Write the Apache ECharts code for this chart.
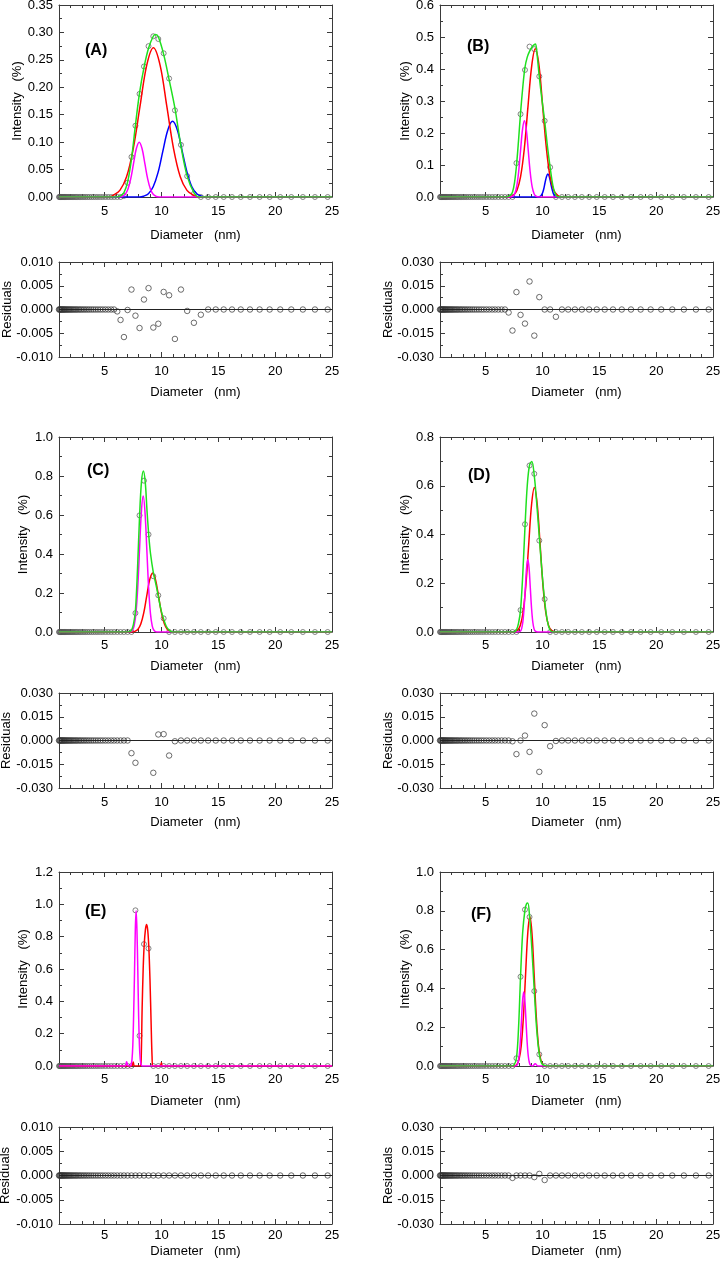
<!DOCTYPE html>
<html><head><meta charset="utf-8">
<script src="https://cdn.jsdelivr.net/npm/echarts@6/dist/echarts.min.js"></script>
<style>html,body{margin:0;padding:0;background:#fff}#c{width:720px;height:1264px}</style>
</head><body><div id="c"></div>
<script>
// ---------------- DATA ----------------
// size bins (nm), shared by all six measurements
const diameters = [
 1.00,1.05,1.10,1.15,1.21,1.26,1.32,1.39,1.45,1.52,
 1.59,1.67,1.75,1.83,1.92,2.01,2.10,2.20,2.31,2.42,
 2.53,2.65,2.78,2.91,3.05,3.20,3.35,3.51,3.67,3.85,
 4.03,4.22,4.42,4.63,4.85,5.08,5.32,5.58,5.84,6.12,
 6.41,6.71,7.03,7.37,7.72,8.08,8.47,8.87,9.29,9.73,
 10.20,10.68,11.19,11.72,12.27,12.86,13.47,14.11,14.78,15.48,
 16.21,16.98,17.79,18.64,19.52,20.45,21.42,22.44,23.50,24.62];

const xTicks = [5, 10, 15, 20, 25];

const intensityA = [0,0,0,0,0,0,0,0,0,0, 0,0,0,0,0,0,0,0,0,0, 0,0,0,0,0,0,0,0,0,0, 0,0,0,0,0,0,0,0,0,0,
 0,0.002,0.026,0.073,0.130,0.188,0.238,0.275,0.293,0.288, 0.262,0.216,0.158,0.095,0.038,0.006,0,0,0,0, 0,0,0,0,0,0,0,0,0,0];
const residualA = [0,0,0,0,0,0,0,0,0,0, 0,0,0,0,0,0,0,0,0,0, 0,0,0,0,0,0,0,0,0,0, 0,0,0,0,0,0,0,0,0,-0.0004,
 -0.0022,-0.0058,-0.0001,0.0042,-0.0013,-0.0039,0.0021,0.0045,-0.0038,-0.0030, 0.0037,0.0030,-0.0062,0.0042,-0.0003,-0.0028,-0.0011,0,0,0, 0,0,0,0,0,0,0,0,0,0];

const intensityB = [0,0,0,0,0,0,0,0,0,0, 0,0,0,0,0,0,0,0,0,0, 0,0,0,0,0,0,0,0,0,0, 0,0,0,0,0,0,0,0,0,0,
 0,0,0,0,0.106,0.259,0.397,0.470,0.462,0.377, 0.238,0.093,0,0,0,0,0,0,0,0, 0,0,0,0,0,0,0,0,0,0];
const residualB = [0,0,0,0,0,0,0,0,0,0, 0,0,0,0,0,0,0,0,0,0, 0,0,0,0,0,0,0,0,0,0, 0,0,0,0,0,0,0,0,0,0,
 0,0,-0.0019,-0.0133,0.0110,-0.0034,-0.0089,0.0177,-0.0165,0.0078, 0,0,-0.0046,0,0,0,0,0,0,0, 0,0,0,0,0,0,0,0,0,0];

const intensityC = [0,0,0,0,0,0,0,0,0,0, 0,0,0,0,0,0,0,0,0,0, 0,0,0,0,0,0,0,0,0,0, 0,0,0,0,0,0,0,0,0,0,
 0,0,0,0,0.097,0.598,0.776,0.500,0.286,0.188, 0.070,0,0,0,0,0,0,0,0,0, 0,0,0,0,0,0,0,0,0,0];
const residualC = [0,0,0,0,0,0,0,0,0,0, 0,0,0,0,0,0,0,0,0,0, 0,0,0,0,0,0,0,0,0,0, 0,0,0,0,0,0,0,0,0,0,
 0,0,0,-0.0080,-0.0141,null,null,null,-0.0204,0.0038, 0.0040,-0.0095,-0.0005,0,0,0,0,0,0,0, 0,0,0,0,0,0,0,0,0,0];

const intensityD = [0,0,0,0,0,0,0,0,0,0, 0,0,0,0,0,0,0,0,0,0, 0,0,0,0,0,0,0,0,0,0, 0,0,0,0,0,0,0,0,0,0,
 0,0,0,0,0,0.090,0.442,0.683,0.649,0.375, 0.135,0,0,0,0,0,0,0,0,0, 0,0,0,0,0,0,0,0,0,0];
const residualD = [0,0,0,0,0,0,0,0,0,0, 0,0,0,0,0,0,0,0,0,0, 0,0,0,0,0,0,0,0,0,0, 0,0,0,0,0,0,0,0,0,0,
 0,0,0,-0.0005,-0.0086,0,0.0031,-0.0072,0.0170,-0.0198, 0.0097,-0.0036,-0.0003,0,0,0,0,0,0,0, 0,0,0,0,0,0,0,0,0,0];

const intensityE = [0,0,0,0,0,0,0,0,0,0, 0,0,0,0,0,0,0,0,0,0, 0,0,0,0,0,0,0,0,0,0, 0,0,0,0,0,0,0,0,0,0,
 0,0,0,0,0.963,0.187,0.754,0.727,0,0, 0,0,0,0,0,0,0,0,0,0, 0,0,0,0,0,0,0,0,0,0];
const residualE = [0,0,0,0,0,0,0,0,0,0, 0,0,0,0,0,0,0,0,0,0, 0,0,0,0,0,0,0,0,0,0, 0,0,0,0,0,0,0,0,0,0,
 0,0,0,0,0,0,0,0,0,0, 0,0,0,0,0,0,0,0,0,0, 0,0,0,0,0,0,0,0,0,0];

const intensityF = [0,0,0,0,0,0,0,0,0,0, 0,0,0,0,0,0,0,0,0,0, 0,0,0,0,0,0,0,0,0,0, 0,0,0,0,0,0,0,0,0,0,
 0,0,0,0,0.040,0.460,0.806,0.768,0.386,0.060, 0,0,0,0,0,0,0,0,0,0, 0,0,0,0,0,0,0,0,0,0];
const residualF = [0,0,0,0,0,0,0,0,0,0, 0,0,0,0,0,0,0,0,0,0, 0,0,0,0,0,0,0,0,0,0, 0,0,0,0,0,0,0,0,0,0,
 0,0,0,-0.0015,0,0,0,0,-0.0010,0.0010, -0.0028,0,0,0,0,0,0,0,0,0, 0,0,0,0,0,0,0,0,0,0];

// fitted curves [diameter, intensity]
const greenA = [[1,0],[6.1,0],[6.41,0.002],[6.71,0.008],[7.03,0.027],[7.37,0.069],[7.72,0.131],[8.08,0.19],[8.47,0.236],[8.87,0.271],[9.29,0.293],[9.5,0.296],[9.73,0.292],[10.2,0.26],[10.68,0.214],[11.19,0.162],[11.72,0.093],[12.27,0.038],[12.86,0.008],[13.3,0],[25,0]];
const redA = [[1,0],[5.4,0],[5.76,0.003],[6.35,0.012],[6.94,0.0368],[7.53,0.0883],[8.12,0.165],[8.71,0.240],[9.3,0.272],[9.89,0.240],[10.48,0.165],[11.07,0.0883],[11.66,0.0368],[12.25,0.012],[12.84,0.003],[13.2,0],[25,0]];
const magentaA = [[1,0],[6.3,0],[6.55,0.001],[6.8,0.0044],[7.05,0.0135],[7.3,0.0325],[7.55,0.0607],[7.8,0.0883],[8.05,0.1],[8.3,0.0883],[8.55,0.0607],[8.8,0.0325],[9.05,0.0135],[9.3,0.0044],[9.55,0.001],[9.8,0],[25,0]];
const blueA = [[1,0],[8.1,0],[8.43,0.0015],[8.86,0.006],[9.28,0.0187],[9.71,0.0448],[10.13,0.0837],[10.56,0.1218],[10.98,0.138],[11.41,0.1218],[11.83,0.0837],[12.26,0.0448],[12.68,0.0187],[13.11,0.006],[13.53,0.0015],[13.9,0],[25,0]];

const greenB = [[1,0],[6.8,0],[7.03,0.002],[7.2,0.006],[7.37,0.015],[7.55,0.045],[7.72,0.097],[7.9,0.175],[8.08,0.262],[8.27,0.34],[8.47,0.405],[8.67,0.437],[8.87,0.455],[9.08,0.468],[9.29,0.476],[9.4,0.478],[9.55,0.44],[9.73,0.375],[9.96,0.305],[10.2,0.238],[10.44,0.16],[10.68,0.093],[10.93,0.035],[11.19,0.006],[11.5,0],[25,0]];
const redB = [[1,0],[7.1,0],[7.43,0.005],[7.76,0.0203],[8.08,0.0626],[8.41,0.15],[8.73,0.281],[9.06,0.409],[9.38,0.463],[9.71,0.409],[10.03,0.281],[10.36,0.15],[10.68,0.0626],[11.01,0.0203],[11.33,0.005],[11.6,0],[25,0]];
const magentaB = [[1,0],[7.2,0],[7.4,0.0026],[7.57,0.0104],[7.74,0.0322],[7.91,0.0773],[8.08,0.1444],[8.25,0.21],[8.42,0.238],[8.59,0.21],[8.76,0.1444],[8.93,0.0773],[9.1,0.0322],[9.27,0.0104],[9.44,0.0026],[9.65,0],[25,0]];
const blueB = [[1,0],[9.5,0],[9.73,0.0008],[9.86,0.0032],[9.98,0.0097],[10.11,0.0234],[10.23,0.0437],[10.36,0.0635],[10.48,0.072],[10.61,0.0635],[10.73,0.0437],[10.86,0.0234],[10.98,0.0097],[11.11,0.0032],[11.23,0.0008],[11.45,0],[25,0]];

const greenC = [[1,0],[7.0,0],[7.2,0.002],[7.37,0.008],[7.55,0.04],[7.72,0.111],[7.9,0.32],[8.08,0.59],[8.25,0.77],[8.42,0.826],[8.58,0.77],[8.74,0.62],[8.9,0.49],[9.05,0.4],[9.29,0.306],[9.5,0.25],[9.73,0.184],[9.96,0.115],[10.2,0.066],[10.44,0.028],[10.68,0.0095],[10.95,0],[25,0]];
const redC = [[1,0],[7.4,0],[7.67,0.0034],[7.93,0.0133],[8.19,0.041],[8.45,0.098],[8.71,0.184],[8.97,0.267],[9.23,0.303],[9.49,0.267],[9.75,0.184],[10.01,0.098],[10.27,0.041],[10.53,0.0133],[10.79,0.0034],[11.05,0],[25,0]];
const magentaC = [[1,0],[7.2,0],[7.44,0.0077],[7.6,0.0306],[7.76,0.0943],[7.92,0.226],[8.08,0.423],[8.24,0.615],[8.4,0.697],[8.56,0.615],[8.72,0.423],[8.88,0.226],[9.04,0.0943],[9.2,0.0306],[9.36,0.0077],[9.6,0],[25,0]];

const greenD = [[1,0],[7.5,0],[7.72,0.009],[7.9,0.035],[8.08,0.09],[8.28,0.24],[8.47,0.43],[8.67,0.6],[8.87,0.685],[9.07,0.70],[9.29,0.64],[9.5,0.53],[9.73,0.39],[9.96,0.25],[10.2,0.128],[10.44,0.045],[10.68,0.008],[10.95,0],[25,0]];
const redD = [[1,0],[7.5,0],[7.8,0.0066],[8.05,0.026],[8.3,0.08],[8.55,0.1925],[8.8,0.3597],[9.05,0.523],[9.3,0.593],[9.55,0.523],[9.8,0.3597],[10.05,0.1925],[10.3,0.08],[10.55,0.026],[10.8,0.0066],[11.1,0],[25,0]];
const magentaD = [[1,0],[7.85,0],[8.06,0.0033],[8.17,0.013],[8.28,0.04],[8.39,0.0964],[8.5,0.18],[8.61,0.262],[8.72,0.297],[8.83,0.262],[8.94,0.18],[9.05,0.0964],[9.16,0.04],[9.27,0.013],[9.38,0.0033],[9.6,0],[25,0]];

const redE = [[1,0],[7.4,0],[7.52,0.025],[7.64,0],[8.15,0],[8.22,0.03],[8.31,0.36],[8.4,0.6],[8.49,0.75],[8.6,0.845],[8.7,0.875],[8.8,0.84],[8.9,0.73],[9.0,0.53],[9.1,0.26],[9.18,0.06],[9.25,0],[9.9,0],[10.0,0.02],[10.1,0],[25,0]];
const magentaE = [[1,0],[6.8,0],[6.94,0.027],[7.08,0],[7.3,0],[7.35,0.011],[7.42,0.042],[7.49,0.13],[7.56,0.312],[7.64,0.582],[7.71,0.847],[7.78,0.96],[7.85,0.847],[7.93,0.582],[8.0,0.312],[8.07,0.13],[8.14,0.042],[8.22,0.011],[8.3,0],[25,0]];

const greenF = [[1,0],[7.3,0],[7.5,0.005],[7.72,0.04],[7.9,0.19],[8.08,0.46],[8.27,0.69],[8.47,0.805],[8.6,0.835],[8.72,0.84],[8.87,0.775],[9.08,0.6],[9.29,0.387],[9.5,0.19],[9.73,0.06],[9.95,0.012],[10.2,0.003],[10.45,0],[25,0]];
const redF = [[1,0],[7.5,0],[7.76,0.0085],[7.95,0.0338],[8.14,0.104],[8.33,0.25],[8.52,0.467],[8.71,0.68],[8.9,0.77],[9.09,0.68],[9.28,0.467],[9.47,0.25],[9.66,0.104],[9.85,0.0338],[10.04,0.0085],[10.3,0],[25,0]];
const magentaF = [[1,0],[7.55,0],[7.76,0.0042],[7.86,0.0168],[7.96,0.0517],[8.06,0.124],[8.16,0.232],[8.26,0.337],[8.36,0.382],[8.46,0.337],[8.56,0.232],[8.66,0.124],[8.76,0.0517],[8.86,0.0168],[8.96,0.0042],[9.15,0],[9.37,0.012],[9.6,0],[25,0]];

// ---------------- LAYOUT / STYLE ----------------
const FONT = 'Liberation Sans, Arial, Helvetica, sans-serif';
const COLORS = {green:'#1fe01f', red:'#ff0000', magenta:'#ff00ff', blue:'#0000ff'};
const COL_LEFT = [59, 440], PLOT_W = 273;
const MAIN_TOP = [5, 437, 872], MAIN_H = [192, 195, 194];
const RES_TOP = [262, 693, 1127], RES_H = [95, 95, 97];
const MAIN_XNAME_GAP = [32, 28, 29], MAIN_XLABEL_MARGIN = [8, 7, 7];
const RES_XNAME_GAP = [29, 28, 21], RES_XLABEL_MARGIN = [8, 8, 5];

const panels = [
 {label:'(A)', col:0, row:0, yMax:0.35, yStep:0.05, yDec:2, rLim:0.01, rStep:0.005, inten:intensityA, resid:residualA,
  fits:[[blueA,'blue'],[redA,'red'],[magentaA,'magenta'],[greenA,'green']], lab:[85,43], yGap:35, rGap:45},
 {label:'(B)', col:1, row:0, yMax:0.6, yStep:0.1, yDec:1, rLim:0.03, rStep:0.015, inten:intensityB, resid:residualB,
  fits:[[blueB,'blue'],[redB,'red'],[magentaB,'magenta'],[greenB,'green']], lab:[467,39], yGap:28, rGap:45},
 {label:'(C)', col:0, row:1, yMax:1.0, yStep:0.2, yDec:1, rLim:0.03, rStep:0.015, inten:intensityC, resid:residualC,
  fits:[[redC,'red'],[magentaC,'magenta'],[greenC,'green']], lab:[87,463], yGap:29, rGap:46},
 {label:'(D)', col:1, row:1, yMax:0.8, yStep:0.2, yDec:1, rLim:0.03, rStep:0.015, inten:intensityD, resid:residualD,
  fits:[[redD,'red'],[magentaD,'magenta'],[greenD,'green']], lab:[468,468], yGap:28, rGap:45},
 {label:'(E)', col:0, row:2, yMax:1.2, yStep:0.2, yDec:1, rLim:0.01, rStep:0.005, inten:intensityE, resid:residualE,
  fits:[[redE,'red'],[magentaE,'magenta']], lab:[85,904], yGap:29, rGap:47},
 {label:'(F)', col:1, row:2, yMax:1.0, yStep:0.2, yDec:1, rLim:0.03, rStep:0.015, inten:intensityF, resid:residualF,
  fits:[[redF,'red'],[magentaF,'magenta'],[greenF,'green']], lab:[471,907], yGap:28, rGap:45}
];

const AX = '#3a3a3a';
const tickStyle = {color: AX, width: 1};
function fmt(dec){ return v => (Math.abs(v) < 1e-9 ? 0 : v).toFixed(dec); }

const grid = [], xAxis = [], yAxis = [], series = [], title = [];

function addAxes(g, xMargin, xGap, yMin, yMax, yStep, yDec, yName, yGap){
  const base = {gridIndex:g, type:'value', min:1, max:25, splitLine:{show:false}, minorSplitLine:{show:false},
    axisLine:{show:true, onZero:false, lineStyle:{color:AX, width:1}},
    axisTick:{show:true, inside:true, length:5, lineStyle:tickStyle},
    minorTick:{show:true, inside:true, splitNumber:5, length:3, lineStyle:tickStyle}};
  xAxis.push(Object.assign({}, base, {position:'bottom',
    axisLabel:{show:true, margin:xMargin, fontSize:13, fontFamily:FONT, color:'#000',
      formatter: v => (xTicks.indexOf(Math.round(v*1000)/1000) >= 0 ? String(Math.round(v)) : '')},
    name:'Diameter   (nm)', nameLocation:'middle', nameGap:xGap, nameMoveOverlap:false,
    nameTextStyle:{fontSize:13, fontFamily:FONT, color:'#000'}}));
  xAxis.push(Object.assign({}, base, {position:'top', axisLabel:{show:false}}));
  const ybase = {gridIndex:g, type:'value', min:yMin, max:yMax, interval:yStep, splitLine:{show:false}, minorSplitLine:{show:false},
    axisLine:{show:true, onZero:false, lineStyle:{color:AX, width:1}},
    axisTick:{show:true, inside:true, length:5, lineStyle:tickStyle},
    minorTick:{show:true, inside:true, splitNumber:2, length:3, lineStyle:tickStyle}};
  yAxis.push(Object.assign({}, ybase, {position:'left',
    axisLabel:{show:true, margin:6, fontSize:13, fontFamily:FONT, color:'#000', formatter:fmt(yDec)},
    name:yName, nameLocation:'middle', nameGap:yGap, nameMoveOverlap:false,
    nameTextStyle:{fontSize:13, fontFamily:FONT, color:'#000'}}));
  yAxis.push(Object.assign({}, ybase, {position:'right', axisLabel:{show:false}}));
}

const circleStyle = {color:'rgba(255,255,255,0)', borderColor:'#555', borderWidth:0.9};

panels.forEach((p, i) => {
  const gm = 2*i, gr = 2*i + 1;
  grid.push({left:COL_LEFT[p.col], top:MAIN_TOP[p.row], width:PLOT_W, height:MAIN_H[p.row], containLabel:false, outerBoundsMode:'none'});
  grid.push({left:COL_LEFT[p.col], top:RES_TOP[p.row], width:PLOT_W, height:RES_H[p.row], containLabel:false, outerBoundsMode:'none'});
  addAxes(gm, MAIN_XLABEL_MARGIN[p.row], MAIN_XNAME_GAP[p.row], 0, p.yMax, p.yStep, p.yDec, 'Intensity   (%)', p.yGap);
  addAxes(gr, RES_XLABEL_MARGIN[p.row], RES_XNAME_GAP[p.row], -p.rLim, p.rLim, p.rStep, 3, 'Residuals', p.rGap);

  p.fits.forEach(([pts, c]) => series.push({
    type:'line', xAxisIndex:2*gm, yAxisIndex:2*gm, data:pts, showSymbol:false, symbol:'none',
    smooth:0.35, lineStyle:{color:COLORS[c], width:1.5}, itemStyle:{color:COLORS[c]}, silent:true, clip:true
  }));
  series.push({
    type:'scatter', xAxisIndex:2*gm, yAxisIndex:2*gm, symbol:'circle', symbolSize:5,
    itemStyle:circleStyle, silent:true,
    data: diameters.map((d, k) => [d, p.inten[k]]).filter(v => v[1] !== null)
  });
  series.push({
    type:'scatter', xAxisIndex:2*gr, yAxisIndex:2*gr, symbol:'circle', symbolSize:5.5,
    itemStyle:{color:'rgba(255,255,255,0)', borderColor:'#333', borderWidth:0.9}, silent:true,
    data: diameters.map((d, k) => [d, p.resid[k]]).filter(v => v[1] !== null),
    markLine:{silent:true, symbol:'none', label:{show:false}, animation:false,
      lineStyle:{color:'#222', width:1, type:'solid'}, data:[{yAxis:0}]},
    z: 3
  });
  title.push({text:p.label, left:p.lab[0], top:p.lab[1], padding:0,
    textStyle:{fontSize:16, fontWeight:'bold', fontFamily:FONT, color:'#000'}});
});

const chart = echarts.init(document.getElementById('c'), null, {renderer:'canvas'});
chart.setOption({animation:false, backgroundColor:'#fff', textStyle:{fontFamily:FONT},
  title, grid, xAxis, yAxis, series});
</script></body></html>
